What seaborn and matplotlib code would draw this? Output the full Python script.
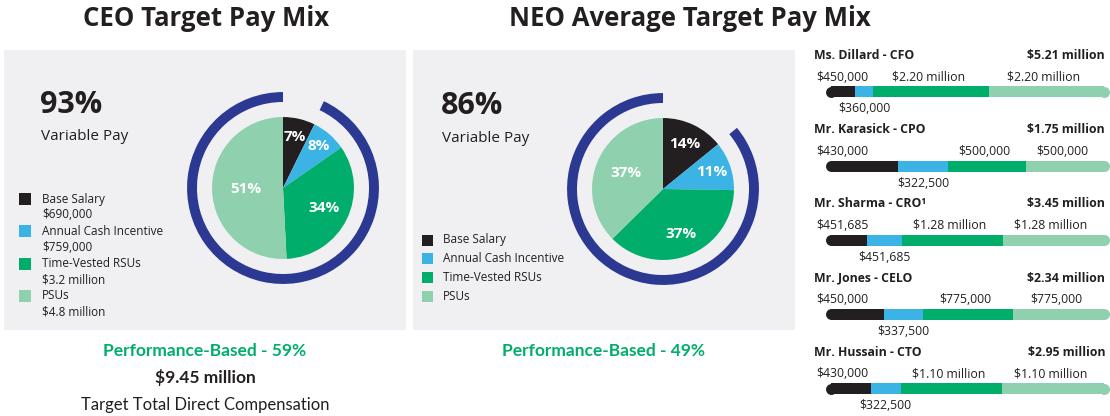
import numpy as np
import pandas as pd
import seaborn as sns
import matplotlib.pyplot as plt
from matplotlib.patches import Rectangle

# ---- data ----
components = ["Base Salary", "Annual Cash Incentive", "Time-Vested RSUs", "PSUs"]
ceo_values = [690000, 759000, 3200000, 4800000]
ceo_amounts = ["$690,000", "$759,000", "$3.2 million", "$4.8 million"]
ceo_pct_labels = ["7%", "8%", "34%", "51%"]
neo_values = [14, 11, 37, 37]
neo_pct_labels = ["14%", "11%", "37%", "37%"]
ceo_variable = 93
neo_variable = 86
ceo_perf = 59
neo_perf = 49
ceo_total = "$9.45 million"

neo_names = ["Ms. Dillard - CFO", "Mr. Karasick - CPO", "Mr. Sharma - CRO\u00b9",
             "Mr. Jones - CELO", "Mr. Hussain - CTO"]
neo_totals = ["$5.21 million", "$1.75 million", "$3.45 million", "$2.34 million", "$2.95 million"]
neo_base = [450000, 430000, 451685, 450000, 430000]
neo_cash = [360000, 322500, 451685, 337500, 322500]
neo_rsu = [2200000, 500000, 1280000, 775000, 1100000]
neo_psu = [2200000, 500000, 1280000, 775000, 1100000]
neo_base_lbl = ["$450,000", "$430,000", "$451,685", "$450,000", "$430,000"]
neo_cash_lbl = ["$360,000", "$322,500", "$451,685", "$337,500", "$322,500"]
neo_rsu_lbl = ["$2.20 million", "$500,000", "$1.28 million", "$775,000", "$1.10 million"]
neo_psu_lbl = ["$2.20 million", "$500,000", "$1.28 million", "$775,000", "$1.10 million"]

# ---- style ----
sns.set_theme(style="white")
plt.rcParams['font.family'] = ['Open Sans', 'DejaVu Sans']
palette = ["#231f20", "#3bb3e4", "#00ad6b", "#8fd0ae"]
navy = "#2b3992"
dark = "#231f20"
green_txt = "#00ae6c"
panel_bg = "#f0f0f2"

W, H = 1110, 416
fig = plt.figure(figsize=(W / 100, H / 100), dpi=100)

# pixel-space overlay for panels, legends and free text
base = fig.add_axes([0, 0, 1, 1])
base.set_xlim(0, W)
base.set_ylim(H, 0)
base.axis('off')

def px_axes(x0, y0, x1, y1):
    return fig.add_axes([x0 / W, 1 - y1 / H, (x1 - x0) / W, (y1 - y0) / H])

base.add_patch(Rectangle((4, 50), 402, 280, color=panel_bg, lw=0))
base.add_patch(Rectangle((413, 50), 382, 280, color=panel_bg, lw=0))

base.text(206, 18, "CEO Target Pay Mix", ha='center', va='center',
          fontsize=18.5, fontweight='bold', color=dark)
base.text(690, 18, "NEO Average Target Pay Mix", ha='center', va='center',
          fontsize=18.5, fontweight='bold', color=dark)


def draw_pie(cx, cy, values, labels, variable, dists):
    ax = px_axes(cx - 110, cy - 110, cx + 110, cy + 110)
    wedges, _ = ax.pie(values, colors=palette, startangle=90, counterclock=False,
                       radius=1, wedgeprops=dict(linewidth=0))
    ax.pie([100 - variable, variable], colors=['none', navy], startangle=90,
           counterclock=False, radius=1.352, wedgeprops=dict(width=0.14, linewidth=0))
    for w, lab, d in zip(wedges, labels, dists):
        ang = np.deg2rad((w.theta1 + w.theta2) / 2)
        ax.text(d * np.cos(ang), d * np.sin(ang), lab, ha='center', va='center',
                color='white', fontsize=11, fontweight='bold')
    ax.set_xlim(-1.55, 1.55)
    ax.set_ylim(-1.55, 1.55)
    ax.set_aspect('equal')
    ax.axis('off')


draw_pie(283, 188, ceo_values, ceo_pct_labels, ceo_variable, [0.74, 0.78, 0.64, 0.52])
draw_pie(663, 189, neo_values, neo_pct_labels, neo_variable, [0.7, 0.72, 0.68, 0.57])

# big variable pay figures
base.text(40, 105, f"{ceo_variable}%", ha='left', va='center', fontsize=22,
          fontweight='bold', color=dark)
base.text(41, 137, "Variable Pay", ha='left', va='center', fontsize=11, color=dark)
base.text(441, 106, f"{neo_variable}%", ha='left', va='center', fontsize=22,
          fontweight='bold', color=dark)
base.text(442, 138, "Variable Pay", ha='left', va='center', fontsize=11, color=dark)

# CEO legend
for i, (name, amt) in enumerate(zip(components, ceo_amounts)):
    y = 199 + 32.3 * i
    base.add_patch(Rectangle((19, y - 6), 12, 12, color=palette[i], lw=0))
    base.text(42, y, name, ha='left', va='center', fontsize=8.5, color=dark)
    base.text(42, y + 16, amt, ha='left', va='center', fontsize=8.5, color=dark)

# NEO legend
for i, name in enumerate(components):
    y = 240 + 18.7 * i
    base.add_patch(Rectangle((422, y - 5.5), 11, 11, color=palette[i], lw=0))
    base.text(443, y, name, ha='left', va='center', fontsize=8.5, color=dark)

# bottom captions
base.text(205, 351, f"Performance-Based - {ceo_perf}%", ha='center', va='center',
          fontsize=12.5, fontweight='bold', color=green_txt, family=['Lato', 'DejaVu Sans'])
base.text(205, 378, ceo_total, ha='center', va='center', fontsize=12.5,
          fontweight='bold', color=dark, family=['Lato', 'DejaVu Sans'])
base.text(205, 405, "Target Total Direct Compensation", ha='center', va='center',
          fontsize=12, color=dark, family=['Lato', 'DejaVu Sans'])
base.text(604, 351, f"Performance-Based - {neo_perf}%", ha='center', va='center',
          fontsize=12.5, fontweight='bold', color=green_txt, family=['Lato', 'DejaVu Sans'])

# ---- NEO stacked bars ----
df = pd.DataFrame({"name": neo_names, "base": neo_base, "cash": neo_cash,
                   "rsu": neo_rsu, "psu": neo_psu})
tot = df[["base", "cash", "rsu", "psu"]].sum(axis=1)
shares = df[["base", "cash", "rsu", "psu"]].div(tot, axis=0)
cum = shares.cumsum(axis=1)
for col in ["base", "cash", "rsu", "psu"]:
    df["cum_" + col] = cum[col]

axb = px_axes(800, 40, 1110, 416)
seg_cols = ["base", "cash", "rsu", "psu"]
for col, c in reversed(list(zip(seg_cols, palette))):
    sns.barplot(data=df, x="cum_" + col, y="name", color=c, orient='h', width=0.15,
                saturation=1, errorbar=None, ax=axb, linewidth=0)
axb.scatter([0] * 5, range(5), s=62, color=palette[0], lw=0, zorder=3)
axb.scatter([1] * 5, range(5), s=62, color=palette[3], lw=0, zorder=3)
axb.set_xlim(-0.1136, 1.022)
axb.set_ylim(4.37, -0.70)
axb.axis('off')

for i in range(len(neo_names)):
    s = shares.iloc[i]
    cm = cum.iloc[i]
    axb.text(-0.062, i - 0.49, neo_names[i], ha='left', va='center', fontsize=8.8,
             fontweight='bold', color=dark)
    axb.text(1.004, i - 0.49, neo_totals[i], ha='right', va='center', fontsize=8.8,
             fontweight='bold', color=dark)
    axb.text(-0.055, i - 0.2, neo_base_lbl[i], ha='left', va='center', fontsize=8.8, color=dark)
    axb.text(cm["cash"] + s["rsu"] / 2 - 0.01, i - 0.2, neo_rsu_lbl[i], ha='center',
             va='center', fontsize=8.8, color=dark)
    axb.text(cm["rsu"] + s["psu"] / 2 - 0.01, i - 0.2, neo_psu_lbl[i], ha='center',
             va='center', fontsize=8.8, color=dark)
    axb.text(cm["base"] + s["cash"] / 2, i + 0.23, neo_cash_lbl[i], ha='center',
             va='center', fontsize=8.8, color=dark)

plt.savefig("out.png", dpi=100)
